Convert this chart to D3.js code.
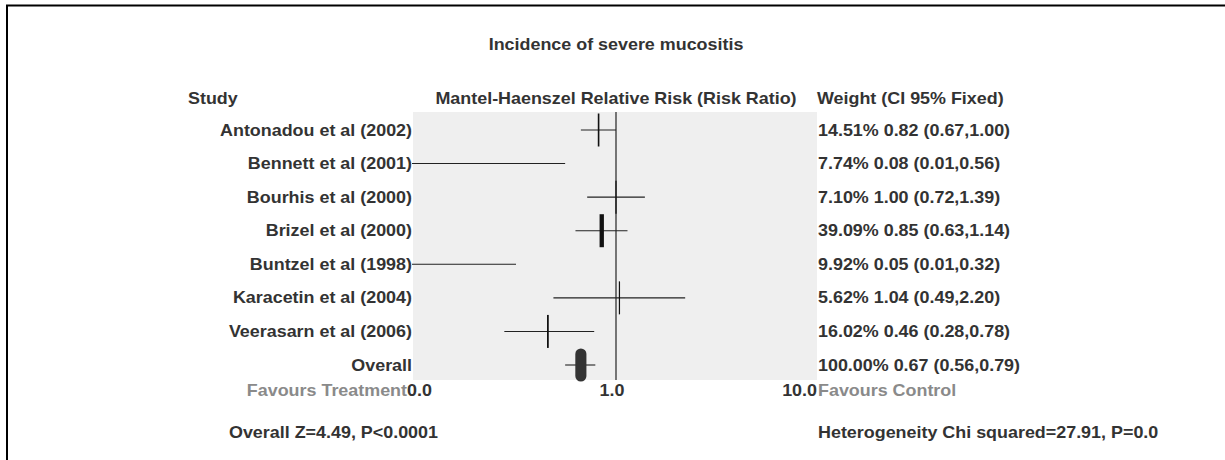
<!DOCTYPE html>
<html>
<head>
<meta charset="utf-8">
<script src="https://cdn.jsdelivr.net/npm/d3@7"></script>
<style>
  html, body { margin: 0; padding: 0; background: #fff; }
  svg { display: block; }
  text { font-family: "Liberation Sans", Arial, sans-serif; font-weight: bold; font-size: 16px; fill: #333; }
</style>
</head>
<body>
<script>
// Studies in the meta-analysis (last row is the pooled estimate)
const studies = ["Antonadou et al (2002)", "Bennett et al (2001)", "Bourhis et al (2000)",
  "Brizel et al (2000)", "Buntzel et al (1998)", "Karacetin et al (2004)",
  "Veerasarn et al (2006)", "Overall"];
const weights = [14.51, 7.74, 7.10, 39.09, 9.92, 5.62, 16.02, 100.00];
const riskRatio = [0.82, 0.08, 1.00, 0.85, 0.05, 1.04, 0.46, 0.67];
const ciLower = [0.67, 0.01, 0.72, 0.63, 0.01, 0.49, 0.28, 0.56];
const ciUpper = [1.00, 0.56, 1.39, 1.14, 0.32, 2.20, 0.78, 0.79];

const tickValues = [0.1, 1, 10];
const tickLabels = ["0.0", "1.0", "10.0"];

const title = "Incidence of severe mucositis";
const headers = ["Study", "Mantel-Haenszel Relative Risk (Risk Ratio)", "Weight (CI 95% Fixed)"];
const favourLeft = "Favours Treatment";
const favourRight = "Favours Control";
const overallTest = "Overall Z=4.49, P<0.0001";
const heterogeneity = "Heterogeneity Chi squared=27.91, P=0.0";

const W = 1225, H = 460;
const SX = 1.12; // horizontal stretch of the lettering

const svg = d3.select("body").append("svg").attr("width", W).attr("height", H);

// frame
svg.append("rect").attr("x", 7).attr("y", 5.5).attr("width", W + 20).attr("height", H + 20)
  .attr("fill", "none").attr("stroke", "#000").attr("stroke-width", 2);

const x = d3.scaleLog().domain([0.1, 10]).range([414, 818]).clamp(true);
const y = d3.scalePoint().domain(studies).range([130, 365]);
const plotTop = 112, plotBottom = 380;

function label(g, txt, px, py, anchor, color) {
  return g.append("text")
    .attr("transform", `translate(${px},${py}) scale(${SX},1)`)
    .attr("text-anchor", anchor || "start")
    .attr("dy", "0.35em")
    .style("fill", color || "#333")
    .text(txt);
}

// plot background
svg.append("rect")
  .attr("x", x.range()[0] - 1).attr("y", plotTop)
  .attr("width", x.range()[1] - x.range()[0]).attr("height", plotBottom - plotTop)
  .attr("fill", "#efefef");

// title and column headers
label(svg, title, x(1), 44, "middle");
label(svg, headers[0], 188, 98, "start");
label(svg, headers[1], x(1), 98, "middle");
label(svg, headers[2], 817, 98, "start");

// line of no effect
svg.append("line")
  .attr("x1", x(1)).attr("x2", x(1))
  .attr("y1", plotTop).attr("y2", plotBottom)
  .attr("stroke", "#222").attr("stroke-width", 1.2);

const rows = studies.map((s, i) => ({
  study: s, w: weights[i], rr: riskRatio[i], lo: ciLower[i], hi: ciUpper[i], overall: s === "Overall"
}));

const rowG = svg.append("g").selectAll("g").data(rows).join("g");

// confidence intervals
rowG.append("line")
  .attr("x1", d => x(d.lo) - (d.lo <= 0.1 ? 2 : 0)).attr("x2", d => x(d.hi))
  .attr("y1", d => y(d.study)).attr("y2", d => y(d.study))
  .attr("stroke", "#222").attr("stroke-width", 1.1);

// point estimates, thickness by weight
rowG.filter(d => d.rr >= 0.1 && d.rr <= 10).append("line")
  .attr("x1", d => x(d.rr)).attr("x2", d => x(d.rr))
  .attr("y1", d => y(d.study) - (d.overall ? 11 : 16.5))
  .attr("y2", d => y(d.study) + (d.overall ? 11 : 16.5))
  .attr("stroke", d => d.overall ? "#333" : "#111")
  .attr("stroke-linecap", d => d.overall ? "round" : "butt")
  .attr("stroke-width", d => Math.max(1.2, d.w / 9));

// study names and weight / estimate text
rowG.each(function(d) {
  const g = d3.select(this);
  label(g, d.study, 412, y(d.study), "end");
  label(g, `${d.w.toFixed(2)}% ${d.rr.toFixed(2)} (${d.lo.toFixed(2)},${d.hi.toFixed(2)})`,
    818, y(d.study), "start");
});

// axis labels
const axisY = 390;
const tickAnchor = ["start", "middle", "end"];
const tickOffset = [-7, -4, -1];
tickValues.forEach((v, i) => {
  label(svg, tickLabels[i], x(v) + tickOffset[i], axisY, tickAnchor[i]);
});
label(svg, favourLeft, x(0.1) - 7, axisY, "end", "#8a8a8a");
label(svg, favourRight, x(10), axisY, "start", "#8a8a8a");

// summary statistics
label(svg, overallTest, 438, 432, "end");
label(svg, heterogeneity, 818, 432, "start");
</script>
</body>
</html>
